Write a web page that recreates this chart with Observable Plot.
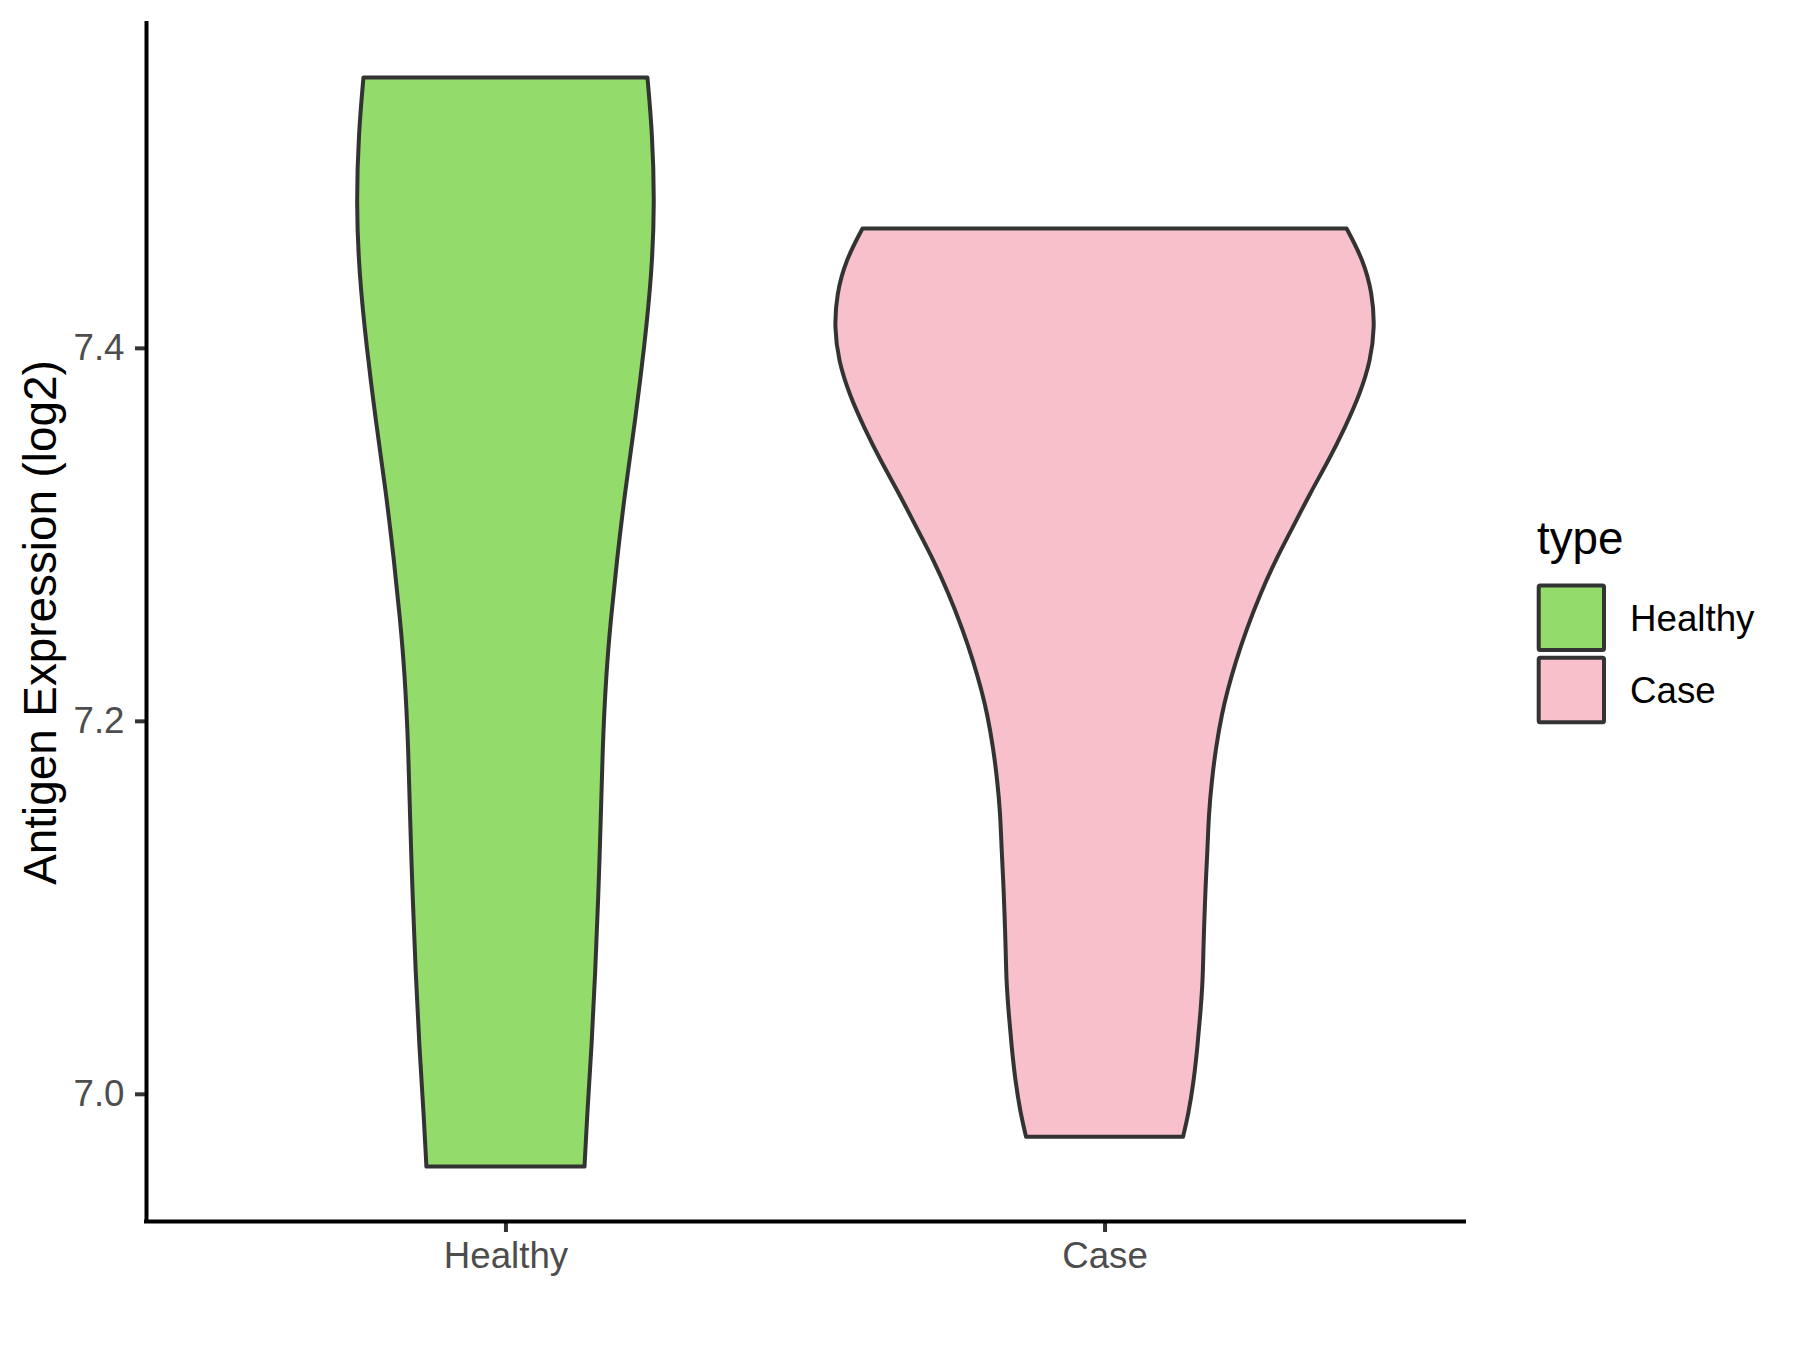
<!DOCTYPE html>
<html>
<head>
<meta charset="utf-8">
<script src="https://cdn.jsdelivr.net/npm/d3@7"></script>
<script src="https://cdn.jsdelivr.net/npm/@observablehq/plot@0.6"></script>
<style>
  html, body { margin: 0; padding: 0; background: white; }
  #wrap { position: relative; width: 1800px; height: 1350px; font-family: "Liberation Sans", Arial, sans-serif; }
  #legend { position: absolute; left: 0; top: 0; pointer-events: none; }
</style>
</head>
<body>
<div id="wrap"></div>
<script>
// ---- data ----
const categories = ["Healthy", "Case"];
const fillColors = ["#93DB6B", "#F7C0CB"];
const yTicks = [7.0, 7.2, 7.4];

// violin outline: expression value (log2) and half-width (x units)
const healthyValue = [7.545, 7.516, 7.477, 7.439, 7.401, 7.362, 7.324, 7.286, 7.255, 7.225, 7.185, 7.145, 7.106, 7.066, 7.026, 6.987, 6.961];
const healthyHalfWidth = [0.237, 0.245, 0.249, 0.244, 0.232, 0.217, 0.200, 0.186, 0.176, 0.168, 0.162, 0.159, 0.155, 0.150, 0.144, 0.136, 0.132];

const caseValue = [7.464, 7.447, 7.429, 7.411, 7.393, 7.375, 7.357, 7.339, 7.322, 7.303, 7.286, 7.268, 7.250, 7.232, 7.216, 7.204, 7.186, 7.168, 7.150, 7.132, 7.114, 7.097, 7.078, 7.061, 7.043, 7.025, 7.007, 6.989, 6.977];
const caseHalfWidth = [0.404, 0.432, 0.447, 0.451, 0.444, 0.426, 0.401, 0.373, 0.343, 0.313, 0.285, 0.260, 0.238, 0.219, 0.205, 0.196, 0.186, 0.179, 0.174, 0.172, 0.169, 0.167, 0.165, 0.164, 0.160, 0.155, 0.149, 0.140, 0.131];

// ---- build table ----
const series = [[healthyValue, healthyHalfWidth], [caseValue, caseHalfWidth]];
const rows = [];
series.forEach(([vals, widths], i) => {
  const center = i + 1;
  vals.forEach((v, j) => rows.push({type: categories[i], value: v, x1: center - widths[j], x2: center + widths[j]}));
});

const allVals = healthyValue.concat(caseValue);
const vMin = d3.min(allVals), vMax = d3.max(allVals);
const pad = (vMax - vMin) * 0.05;
const yDomain = [vMin - pad, vMax + pad];
const xDomain = [0.4, categories.length + 0.6];

const FONT = "'Liberation Sans', Arial, sans-serif";

const chart = Plot.plot({
  width: 1800,
  height: 1350,
  marginLeft: 146,
  marginRight: 336,
  marginTop: 23,
  marginBottom: 129,
  style: {fontFamily: FONT, background: "white"},
  x: {domain: xDomain},
  y: {domain: yDomain},
  color: {domain: categories, range: fillColors},
  marks: [
    Plot.areaX(rows, {
      x1: "x1", x2: "x2", y: "value", fill: "type", z: "type",
      stroke: "#333333", strokeWidth: 4, strokeLinejoin: "round",
      curve: "basis"
    }),
    Plot.axisY({
      ticks: yTicks, tickFormat: d3.format(".1f"),
      tickSize: 11, tickPadding: 11, fontSize: 36.7,
      stroke: "#333333", strokeWidth: 4, fill: "#4D4D4D", label: null
    }),
    Plot.axisX({
      ticks: d3.range(1, categories.length + 1),
      tickFormat: d => categories[d - 1],
      tickSize: 11, tickPadding: 9, fontSize: 36.7,
      stroke: "#333333", strokeWidth: 4, fill: "#4D4D4D", label: null
    }),
    Plot.ruleX([xDomain[0]], {stroke: "black", strokeWidth: 4, strokeLinecap: "square"}),
    Plot.ruleY([yDomain[0]], {stroke: "black", strokeWidth: 4, strokeLinecap: "square"}),
    Plot.text(["Antigen Expression (log2)"], {
      frameAnchor: "left", dx: -105, rotate: -90,
      fontSize: 45.8, fill: "black", textAnchor: "middle", lineAnchor: "middle"
    })
  ]
});

const wrap = document.getElementById("wrap");
wrap.appendChild(chart);

// ---- legend ----
const lg = d3.select(wrap).append("svg")
  .attr("id", "legend").attr("width", 1800).attr("height", 1350)
  .style("font-family", FONT);
lg.append("text").attr("x", 1537).attr("y", 554)
  .attr("font-size", 45.8).attr("fill", "black").text("type");
categories.forEach((c, i) => {
  const top = 583.5 + 72.3 * i;
  lg.append("rect").attr("x", 1538.7).attr("y", top + 2).attr("width", 65.3).attr("height", 64.5)
    .attr("rx", 1.5).attr("fill", fillColors[i]).attr("stroke", "#333333").attr("stroke-width", 4);
  lg.append("text").attr("x", 1630).attr("y", top + 47)
    .attr("font-size", 36.7).attr("fill", "black").text(c);
});
</script>
</body>
</html>
